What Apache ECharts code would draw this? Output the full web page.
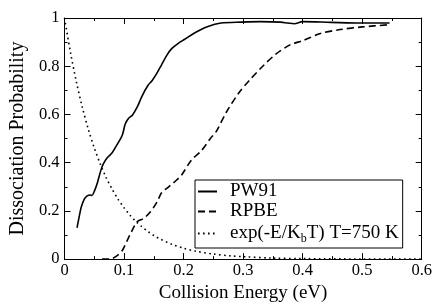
<!DOCTYPE html>
<html><head><meta charset="utf-8">
<script src="https://cdn.jsdelivr.net/npm/echarts@6/dist/echarts.min.js"></script>
<style>html,body{margin:0;padding:0;background:#fff}#c{width:435px;height:308px}</style>
</head><body><div id="c"></div>
<script>
var xTicks = [0, 0.1, 0.2, 0.3, 0.4, 0.5, 0.6];
var yTicks = [0, 0.2, 0.4, 0.6, 0.8, 1];
var seriesNames = ['PW91', 'RPBE', 'exp(-E/K_bT) T=750 K'];
var pw91 = [[0.021,0.13],[0.025,0.18],[0.028,0.215],[0.033,0.248],[0.038,0.262],[0.043,0.266],[0.046,0.264],[0.049,0.275],[0.055,0.315],[0.061,0.368],[0.065,0.394],[0.072,0.421],[0.08,0.441],[0.088,0.474],[0.097,0.514],[0.102,0.56],[0.108,0.585],[0.114,0.597],[0.122,0.63],[0.13,0.675],[0.14,0.72],[0.147,0.74],[0.155,0.77],[0.163,0.806],[0.172,0.846],[0.18,0.873],[0.19,0.893],[0.202,0.912],[0.219,0.939],[0.241,0.965],[0.263,0.979],[0.297,0.983],[0.33,0.985],[0.363,0.983],[0.375,0.979],[0.386,0.976],[0.40,0.985],[0.447,0.982],[0.497,0.979],[0.546,0.979]];
var rpbe = [[0.063,0],[0.075,0],[0.086,0.01],[0.097,0.036],[0.105,0.076],[0.113,0.116],[0.122,0.155],[0.133,0.169],[0.144,0.195],[0.155,0.235],[0.163,0.275],[0.175,0.30],[0.187,0.325],[0.197,0.35],[0.213,0.41],[0.23,0.45],[0.245,0.50],[0.255,0.53],[0.272,0.61],[0.293,0.69],[0.31,0.74],[0.333,0.80],[0.355,0.85],[0.38,0.89],[0.40,0.906],[0.43,0.936],[0.463,0.952],[0.50,0.963],[0.545,0.972]];
var boltz = [[0,1.0],[0.01,0.857],[0.02,0.734],[0.03,0.629],[0.04,0.538],[0.05,0.461],[0.06,0.395],[0.07,0.338],[0.08,0.29],[0.09,0.248],[0.1,0.213],[0.11,0.182],[0.12,0.156],[0.13,0.134],[0.14,0.115],[0.15,0.098],[0.16,0.084],[0.18,0.062],[0.2,0.045],[0.22,0.033],[0.25,0.021],[0.28,0.013],[0.3,0.01],[0.35,0.004],[0.4,0.002],[0.5,0.0004],[0.6,0.0001]];

var FONT = 'Liberation Serif';
var chart = echarts.init(document.getElementById('c'), null, {renderer:'canvas'});
function axisBase(){
  return {
    axisLine:{show:true, onZero:false, lineStyle:{color:'#000', width:1}},
    axisTick:{show:true, inside:true, length:6, lineStyle:{color:'#000'}},
    minorTick:{show:true, splitNumber:2, length:3, lineStyle:{color:'#000'}},
    splitLine:{show:false},
    minorSplitLine:{show:false}
  };
}
var xa = Object.assign(axisBase(), {
  type:'value', min:xTicks[0], max:xTicks[xTicks.length-1], interval:0.1,
  name:'Collision Energy (eV)', nameLocation:'middle', nameGap:15,
  nameTextStyle:{fontFamily:FONT, fontSize:19, color:'#000'},
  axisLabel:{fontFamily:FONT, fontSize:16.5, color:'#000', margin:3}
});
var xaTop = Object.assign(axisBase(), {
  type:'value', min:xTicks[0], max:xTicks[xTicks.length-1], interval:0.1, position:'top',
  axisLabel:{show:false}
});
var ya = Object.assign(axisBase(), {
  type:'value', min:yTicks[0], max:yTicks[yTicks.length-1], interval:0.2,
  name:'Dissociation Probability', nameLocation:'middle', nameGap:31,
  nameTextStyle:{fontFamily:FONT, fontSize:20, color:'#000'},
  axisLabel:{fontFamily:FONT, fontSize:16.5, color:'#000', margin:5}
});
var yaRight = Object.assign(axisBase(), {
  type:'value', min:yTicks[0], max:yTicks[yTicks.length-1], interval:0.2, position:'right',
  axisLabel:{show:false}
});

chart.setOption({
  animation:false,
  backgroundColor:'#fff',
  grid:{left:62, right:13, top:18, bottom:39},
  xAxis:[xa, xaTop],
  yAxis:[ya, yaRight],
  legend:{
    orient:'vertical', left:195, top:180,
    padding:[2,4,3,2], itemGap:1,
    borderColor:'#000', borderWidth:1, backgroundColor:'#fff',
    itemWidth:19, itemHeight:14,
    itemStyle:{opacity:0},
    data:seriesNames,
    formatter:function(n){
      if(n===seriesNames[2]) return '{f|exp(-E/K}{sub|b}{t|T) T=750 K}';
      return '{f|'+n+'}';
    },
    textStyle:{
      fontFamily:FONT, fontSize:19, color:'#000',
      rich:{
        f:{fontFamily:FONT, fontSize:19, color:'#000', lineHeight:17, padding:[0,0,0,8]},
        t:{fontFamily:FONT, fontSize:19, color:'#000', lineHeight:17},
        sub:{fontFamily:FONT, fontSize:12, color:'#000', lineHeight:6, padding:[11,0,0,0]}
      }
    }
  },
  series:[
    {name:seriesNames[0], type:'line', data:pw91, symbol:'none', smooth:0.3,
     lineStyle:{color:'#000', width:1.6, type:'solid'}, itemStyle:{color:'#000'}},
    {name:seriesNames[1], type:'line', data:rpbe, symbol:'none', smooth:0.3,
     lineStyle:{color:'#000', width:1.6, type:[7,4]}, itemStyle:{color:'#000'}},
    {name:seriesNames[2], type:'line', data:boltz, symbol:'none', smooth:0.3,
     lineStyle:{color:'#000', width:1.6, type:[1.6,3.4]}, itemStyle:{color:'#000'}}
  ]
});
</script>
</body></html>
